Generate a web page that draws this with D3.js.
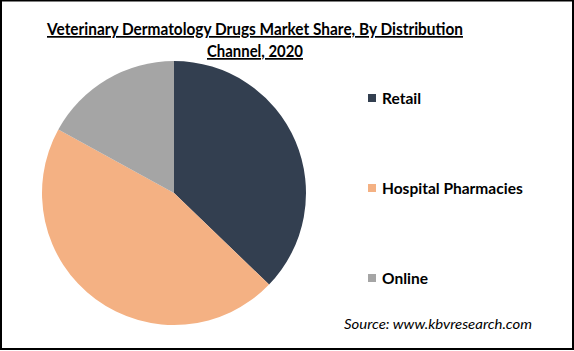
<!DOCTYPE html>
<html lang="en">
<head>
    <meta charset="UTF-8">
    <title>Veterinary Dermatology Drugs Market Share</title>
    <script src="https://d3js.org/d3.v7.min.js"></script>
    <style>
        body { margin: 0; background: #fff; }
        svg { display: block; font-family: Lato, "Open Sans", sans-serif; }
    </style>
</head>
<body>
    <svg id="chart"></svg>
    <script>
        const width = 574, height = 351;

        // data (percent)
        const channels = ["Retail", "Hospital Pharmacies", "Online"];
        const shares = [37.2, 45.8, 17.0];
        const colors = ["#333f50", "#f4b183", "#a5a5a5"];
        const titleLines = ["Veterinary Dermatology Drugs Market Share, By Distribution", "Channel, 2020"];

        const svg = d3.select("#chart").attr("width", width).attr("height", height);

        svg.append("rect")
            .attr("x", 1).attr("y", 0.5)
            .attr("width", 572).attr("height", 348.5)
            .attr("fill", "#fff").attr("stroke", "#000").attr("stroke-width", 2);

        // title
        const title = svg.append("g").attr("font-weight", "bold").attr("font-size", 17)
            .attr("text-anchor", "middle").attr("fill", "#000");
        const titleWidths = [416, 96];
        titleLines.forEach((t, i) => {
            title.append("text")
                .attr("x", 255).attr("y", 35 + i * 22)
                .attr("text-decoration", "underline")
                .attr("textLength", titleWidths[i]).attr("lengthAdjust", "spacingAndGlyphs")
                .text(t);
        });

        // pie
        const cx = 174, cy = 193, r = 132;
        const color = d3.scaleOrdinal().domain(channels).range(colors);
        const pie = d3.pie().sort(null).value(d => d.value);
        const arc = d3.arc().innerRadius(0).outerRadius(r);
        const data = channels.map((c, i) => ({ name: c, value: shares[i] }));

        svg.append("g").attr("transform", `translate(${cx},${cy})`)
            .selectAll("path")
            .data(pie(data))
            .join("path")
            .attr("d", arc)
            .attr("fill", d => color(d.data.name));

        // legend
        const legendY = d3.scalePoint().domain(channels).range([98, 278]);
        const legend = svg.append("g").selectAll("g")
            .data(channels)
            .join("g")
            .attr("transform", d => `translate(368,${legendY(d)})`);
        legend.append("rect")
            .attr("x", 0).attr("y", -4).attr("width", 8).attr("height", 8)
            .attr("fill", d => color(d));
        legend.append("text")
            .attr("x", 14).attr("y", 5.5)
            .attr("font-size", 15.5).attr("font-weight", "bold").attr("fill", "#000")
            .text(d => d);

        // source
        svg.append("text")
            .attr("x", 344).attr("y", 329)
            .attr("font-size", 14).attr("font-style", "italic").attr("fill", "#000")
            .attr("textLength", 188).attr("lengthAdjust", "spacingAndGlyphs")
            .text("Source: www.kbvresearch.com");
    </script>
</body>
</html>
